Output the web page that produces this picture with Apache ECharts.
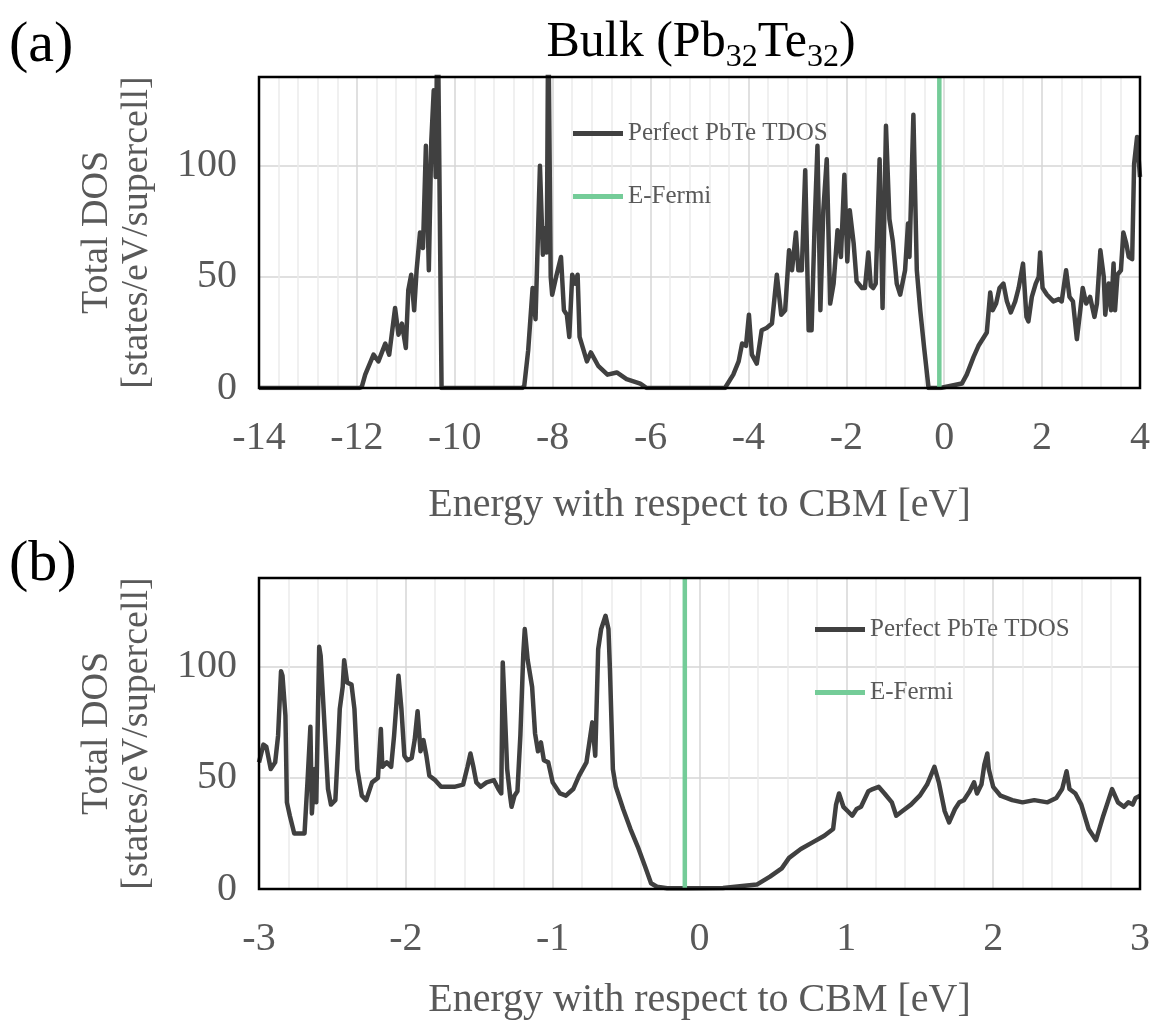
<!DOCTYPE html>
<html>
<head>
<meta charset="utf-8">
<script src="https://cdn.jsdelivr.net/npm/echarts@6.0.0/dist/echarts.min.js"></script>
<style>
  html, body { margin: 0; padding: 0; background: #fff; }
  #chart { width: 1151px; height: 1021px; }
</style>
</head>
<body>
<div id="chart"></div>
<script>
// Total density of states of bulk PbTe (Pb32Te32 supercell), energies relative to the CBM.

// Panel (a): full energy window, [energy (eV), DOS (states/eV/supercell)]
const wideDos = [
  [-14.00, 0], [-11.95, 0], [-11.90, 0.5], [-11.83, 6], [-11.66, 15], [-11.56, 12], [-11.42, 20],
  [-11.34, 15], [-11.22, 36], [-11.15, 24], [-11.08, 29], [-11.00, 18], [-10.95, 44], [-10.89, 51],
  [-10.83, 35], [-10.78, 53], [-10.71, 70], [-10.65, 63], [-10.59, 109], [-10.53, 53], [-10.48, 111],
  [-10.43, 134], [-10.39, 95], [-10.35, 175], [-10.27, 0],
  [-8.62, 0], [-8.58, 1], [-8.50, 17], [-8.41, 45], [-8.35, 31], [-8.26, 100], [-8.20, 60], [-8.15, 72],
  [-8.12, 61], [-8.09, 170], [-8.04, 50], [-8.01, 42], [-7.93, 50], [-7.83, 59], [-7.77, 35], [-7.71, 33],
  [-7.66, 23], [-7.60, 51], [-7.54, 47], [-7.49, 51], [-7.45, 23], [-7.30, 12], [-7.22, 16], [-7.07, 10],
  [-6.88, 6], [-6.69, 7], [-6.49, 4], [-6.21, 2], [-6.08, 0],
  [-4.48, 0], [-4.44, 0.5], [-4.31, 6], [-4.20, 12], [-4.13, 20], [-4.05, 19], [-3.99, 33], [-3.93, 15],
  [-3.83, 11], [-3.73, 26], [-3.63, 27], [-3.52, 29], [-3.42, 51], [-3.33, 33], [-3.25, 35], [-3.17, 62],
  [-3.11, 53], [-3.03, 70], [-2.98, 53], [-2.91, 53], [-2.84, 98], [-2.77, 26], [-2.71, 26], [-2.65, 72],
  [-2.59, 109], [-2.53, 35], [-2.47, 80], [-2.40, 103], [-2.33, 38], [-2.26, 47], [-2.18, 71], [-2.11, 59],
  [-2.04, 96], [-1.98, 57], [-1.93, 80], [-1.85, 65], [-1.79, 48], [-1.68, 45], [-1.62, 45], [-1.55, 61],
  [-1.50, 46], [-1.45, 45], [-1.40, 47], [-1.32, 103], [-1.26, 36], [-1.19, 118], [-1.12, 76], [-1.05, 66],
  [-0.97, 47], [-0.90, 42], [-0.80, 53], [-0.74, 74], [-0.71, 59], [-0.63, 123], [-0.56, 53], [-0.49, 35],
  [-0.41, 18], [-0.32, 0],
  [-0.08, 0], [0.36, 2], [0.46, 6], [0.60, 14], [0.70, 19], [0.87, 25], [0.94, 43], [0.99, 35], [1.06, 38],
  [1.13, 45], [1.21, 47], [1.28, 39], [1.36, 34], [1.45, 39], [1.52, 45], [1.61, 56], [1.68, 32], [1.72, 30],
  [1.79, 41], [1.87, 47], [1.93, 50], [1.96, 61], [2.01, 45], [2.10, 42], [2.23, 39], [2.34, 40], [2.40, 39],
  [2.49, 53], [2.56, 41], [2.63, 39], [2.71, 22], [2.78, 35], [2.83, 45], [2.90, 38], [2.98, 41], [3.07, 32],
  [3.12, 38], [3.19, 62], [3.26, 50], [3.29, 33], [3.36, 47], [3.41, 35], [3.46, 56], [3.49, 35], [3.54, 51],
  [3.61, 53], [3.66, 70], [3.72, 65], [3.77, 59], [3.84, 58], [3.88, 101], [3.94, 113], [4.00, 95]
];

// Panel (b): band-edge window around the gap
const edgeDos = [
  [-3.00, 57], [-2.97, 65], [-2.95, 64], [-2.92, 54], [-2.89, 57], [-2.87, 69], [-2.85, 98], [-2.84, 96],
  [-2.82, 78], [-2.81, 39], [-2.79, 33], [-2.76, 25], [-2.69, 25], [-2.67, 48], [-2.65, 73], [-2.64, 34],
  [-2.62, 54], [-2.61, 39], [-2.59, 109], [-2.58, 105], [-2.55, 69], [-2.53, 45], [-2.51, 38], [-2.48, 40],
  [-2.46, 66], [-2.45, 81], [-2.43, 91], [-2.42, 103], [-2.40, 93], [-2.37, 92], [-2.35, 81], [-2.33, 54],
  [-2.30, 42], [-2.27, 40], [-2.23, 48], [-2.21, 49], [-2.19, 50], [-2.17, 72], [-2.16, 55], [-2.13, 57],
  [-2.10, 55], [-2.08, 69], [-2.05, 96], [-2.03, 81], [-2.01, 60], [-1.99, 58], [-1.96, 59], [-1.94, 67],
  [-1.92, 80], [-1.90, 62], [-1.88, 67], [-1.86, 60], [-1.84, 51], [-1.80, 49], [-1.76, 46], [-1.67, 46],
  [-1.61, 47], [-1.58, 55], [-1.56, 61], [-1.54, 55], [-1.52, 48], [-1.49, 46], [-1.45, 48], [-1.40, 49],
  [-1.37, 45], [-1.35, 43], [-1.34, 102], [-1.33, 87], [-1.31, 54], [-1.29, 42], [-1.28, 37], [-1.26, 42],
  [-1.24, 44], [-1.22, 69], [-1.20, 106], [-1.19, 117], [-1.17, 103], [-1.14, 91], [-1.12, 70], [-1.10, 62],
  [-1.08, 66], [-1.06, 58], [-1.03, 57], [-1.00, 48], [-0.95, 43], [-0.91, 42], [-0.86, 45], [-0.82, 51],
  [-0.77, 57], [-0.75, 66], [-0.73, 75], [-0.71, 60], [-0.69, 108], [-0.67, 117], [-0.64, 123], [-0.62, 117],
  [-0.61, 99], [-0.59, 54], [-0.57, 46], [-0.52, 36], [-0.47, 27], [-0.42, 19], [-0.37, 10], [-0.33, 2.6],
  [-0.29, 1], [-0.22, 0.3], [-0.07, 0.3], [0.16, 0.5], [0.39, 2], [0.48, 5.6], [0.56, 9.3], [0.61, 14],
  [0.69, 18], [0.77, 21], [0.85, 24], [0.91, 27], [0.93, 38], [0.95, 43], [0.98, 37], [1.01, 35], [1.04, 33],
  [1.07, 36], [1.10, 37], [1.15, 44], [1.18, 45], [1.22, 46], [1.26, 43], [1.31, 39], [1.34, 33], [1.38, 35],
  [1.44, 38], [1.50, 42], [1.55, 47], [1.60, 55], [1.63, 48], [1.67, 35], [1.70, 30], [1.74, 36], [1.77, 39],
  [1.80, 40], [1.84, 44], [1.87, 48], [1.89, 43], [1.92, 47], [1.94, 56], [1.96, 61], [1.97, 54], [2.00, 46],
  [2.05, 42], [2.13, 40], [2.20, 39], [2.28, 40], [2.37, 39], [2.43, 41], [2.47, 45], [2.50, 53], [2.52, 45],
  [2.56, 43], [2.60, 38], [2.65, 27], [2.70, 22], [2.75, 33], [2.78, 39], [2.81, 45], [2.85, 39], [2.89, 37],
  [2.92, 39], [2.95, 38], [2.97, 41], [3.00, 42]
];

const fermiLevel = -0.1;          // eV
const dosRange = [0, 140];        // y-axis limits
const dosStep = 50;
const wideRange = [-14, 4];       // panel (a) energy limits
const wideStep = 2;
const edgeRange = [-3, 3];        // panel (b) energy limits
const edgeStep = 1;
const seriesNames = ['Perfect PbTe TDOS', 'E-Fermi'];

const SERIF = '"Liberation Serif", "Times New Roman", serif';
const INK = '#595959';
const DOS_COLOR = '#404040';
const FERMI_COLOR = '#74cc98';

// plot boxes
const PLOT_LEFT = 259, PLOT_W = 881, PLOT_H = 311;
const panelTops = [77, 578];

function xAxisFor(i, range, step, gap) {
  return {
    gridIndex: i, type: 'value', min: range[0], max: range[1], interval: step,
    axisLine: { show: false }, axisTick: { show: false },
    axisLabel: { fontFamily: SERIF, fontSize: 40, color: INK, margin: 30 },
    splitLine: { show: true, lineStyle: { color: '#d6d6d6', width: 1.5 } },
    minorTick: { show: false, splitNumber: 5 },
    minorSplitLine: { show: true, lineStyle: { color: '#ebebeb', width: 1.5 } },
    name: 'Energy with respect to CBM [eV]', nameLocation: 'middle', nameGap: gap,
    nameTextStyle: { fontFamily: SERIF, fontSize: 40, color: INK }
  };
}

function yAxisFor(i) {
  return {
    gridIndex: i, type: 'value', min: dosRange[0], max: dosRange[1], interval: dosStep,
    axisLine: { show: false }, axisTick: { show: false },
    axisLabel: {
      fontFamily: SERIF, fontSize: 40, color: INK, margin: 22,
      formatter: v => (v % dosStep === 0 ? String(v) : '')
    },
    splitLine: { show: true, lineStyle: { color: '#d6d6d6', width: 1.5 } },
    name: 'Total DOS\n[states/eV/supercell]', nameLocation: 'middle', nameRotate: 90, nameGap: 102,
    nameTextStyle: { fontFamily: SERIF, fontSize: 38, lineHeight: 40, color: INK }
  };
}

function seriesFor(i, curve) {
  return [
    {
      name: seriesNames[0], type: 'line', xAxisIndex: i, yAxisIndex: i,
      data: curve, showSymbol: false, symbol: 'none', z: 3,
      lineStyle: { color: DOS_COLOR, width: 4.5, join: 'round' },
      itemStyle: { color: DOS_COLOR }
    },
    {
      name: seriesNames[1], type: 'line', xAxisIndex: i, yAxisIndex: i,
      data: [[fermiLevel, dosRange[0]], [fermiLevel, dosRange[1]]],
      showSymbol: false, symbol: 'none', z: 4,
      lineStyle: { color: FERMI_COLOR, width: 4.5 },
      itemStyle: { color: FERMI_COLOR }
    }
  ];
}

function legendFor(left, top) {
  return {
    data: seriesNames, orient: 'vertical', left: left, top: top, padding: 0,
    itemGap: 38, itemWidth: 50, itemHeight: 5, icon: 'rect', selectedMode: false,
    textStyle: { fontFamily: SERIF, fontSize: 25, color: INK }
  };
}

const frames = panelTops.map(t => ({
  type: 'rect', z: 100, silent: true,
  shape: { x: PLOT_LEFT, y: t, width: PLOT_W, height: PLOT_H },
  style: { fill: 'none', stroke: '#000', lineWidth: 2.5 }
}));

const chart = echarts.init(document.getElementById('chart'), null, { renderer: 'canvas' });
chart.setOption({
  backgroundColor: '#fff',
  animation: false,
  grid: panelTops.map(t => ({
    left: PLOT_LEFT, top: t, width: PLOT_W, height: PLOT_H,
    containLabel: false, outerBoundsMode: 'none'
  })),
  xAxis: [xAxisFor(0, wideRange, wideStep, 97), xAxisFor(1, edgeRange, edgeStep, 91)],
  yAxis: [yAxisFor(0), yAxisFor(1)],
  legend: [legendFor(573, 121), legendFor(815, 617)],
  series: [...seriesFor(0, wideDos), ...seriesFor(1, edgeDos)],
  graphic: [
    ...frames,
    {
      type: 'text', x: 701, y: 46, silent: true,
      style: {
        text: '{n|Bulk (Pb}{s|32}{n|Te}{s|32}{n|)}',
        align: 'center', verticalAlign: 'middle',
        rich: {
          n: { fontFamily: SERIF, fontSize: 50, fill: '#000', lineHeight: 56, verticalAlign: 'top' },
          s: { fontFamily: SERIF, fontSize: 32, fill: '#000', lineHeight: 16, verticalAlign: 'bottom' }
        }
      }
    },
    { type: 'text', x: 9, y: 46, silent: true,
      style: { text: '(a)', fontFamily: SERIF, fontSize: 58, fill: '#000', verticalAlign: 'middle' } },
    { type: 'text', x: 9, y: 565, silent: true,
      style: { text: '(b)', fontFamily: SERIF, fontSize: 58, fill: '#000', verticalAlign: 'middle' } }
  ]
});
</script>
</body>
</html>
